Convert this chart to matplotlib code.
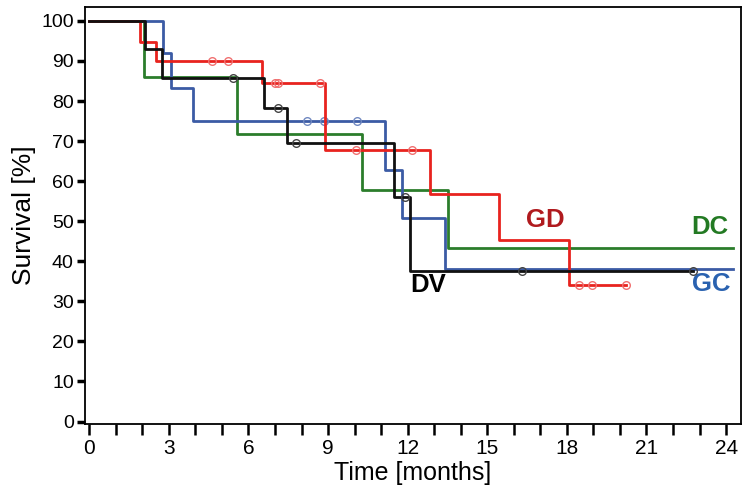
import numpy as np
import matplotlib
matplotlib.use('Agg')
import matplotlib.pyplot as plt
from matplotlib.ticker import MultipleLocator

plt.rcParams['font.family'] = ['Liberation Sans', 'DejaVu Sans']

# Kaplan-Meier steps (time in months, survival in %)
dv_t = [0, 2.09, 2.76, 6.59, 7.45, 11.49, 12.07]
dv_s = [100, 92.9, 85.7, 78.2, 69.6, 56.1, 37.6]
dv_end = 22.75
dv_cens = [5.42, 7.11, 7.79, 11.9, 16.3, 22.75]

gc_t = [0, 2.79, 3.07, 3.9, 11.15, 11.8, 13.4]
gc_s = [100, 91.9, 83.3, 75.0, 62.7, 50.8, 38.0]
gc_end = 24.26
gc_cens = [8.22, 8.86, 10.1]

dc_t = [0, 2.06, 5.58, 10.28, 13.51]
dc_s = [100, 85.9, 71.7, 57.8, 43.2]
dc_end = 24.26
dc_cens = []

gd_t = [0, 1.93, 2.51, 6.5, 8.88, 12.84, 15.44, 18.07]
gd_s = [100, 94.8, 89.9, 84.4, 67.9, 56.9, 45.3, 34.1]
gd_end = 20.23
gd_cens = [4.64, 5.24, 7.0, 7.12, 8.69, 10.06, 12.18, 18.47, 18.93, 20.23]

fig = plt.figure(figsize=(7.5, 4.97), dpi=100)
ax = fig.add_axes([0.1133, 0.147, 0.8743, 0.8383])


def km(t, s, end, cens, color, ccolor, z):
    tt = list(t) + [end]
    ss = list(s) + [s[-1]]
    ax.step(tt, ss, where='post', color=color, lw=2.0, zorder=z)
    if cens:
        idx = np.searchsorted(t, cens, side='right') - 1
        cy = np.array(s)[idx]
        ax.plot(cens, cy, 'o', ms=5.5, mfc='none', mec=ccolor, mew=1.0, zorder=z + 0.5)


km(dc_t, dc_s, dc_end, dc_cens, '#2b7d2b', '#5a9a5a', 2)
km(gc_t, gc_s, gc_end, gc_cens, '#3b5ba5', '#7088c0', 3)
km(gd_t, gd_s, gd_end, gd_cens, '#e8231e', '#f07070', 4)
km(dv_t, dv_s, dv_end, dv_cens, '#111111', '#444444', 5)

lab = dict(fontsize=18.5, fontweight='bold', ha='center', va='center')
ax.text(17.2, 50.4, 'GD', color='#b01a1e', **lab)
ax.text(23.4, 48.5, 'DC', color='#237a23', **lab)
ax.text(23.45, 34.3, 'GC', color='#2a62b0', **lab)
ax.text(12.78, 34.1, 'DV', color='#000000', **lab)

ax.set_xlim(-0.16, 24.55)
ax.set_ylim(-0.6, 103.4)
ax.xaxis.set_major_locator(MultipleLocator(3))
ax.xaxis.set_minor_locator(MultipleLocator(1))
ax.yaxis.set_major_locator(MultipleLocator(10))
ax.tick_params(axis='x', which='both', direction='out', length=8, width=1.8, labelsize=15, pad=3)
ax.tick_params(axis='y', which='major', direction='out', length=6, width=2.5, labelsize=14, pad=2)
for sp in ax.spines.values():
    sp.set_linewidth(1.3)

ax.set_xlabel('Time [months]', fontsize=18, labelpad=2)
ax.set_ylabel('Survival [%]', fontsize=19, labelpad=4)

fig.savefig('out.png', dpi=100)
